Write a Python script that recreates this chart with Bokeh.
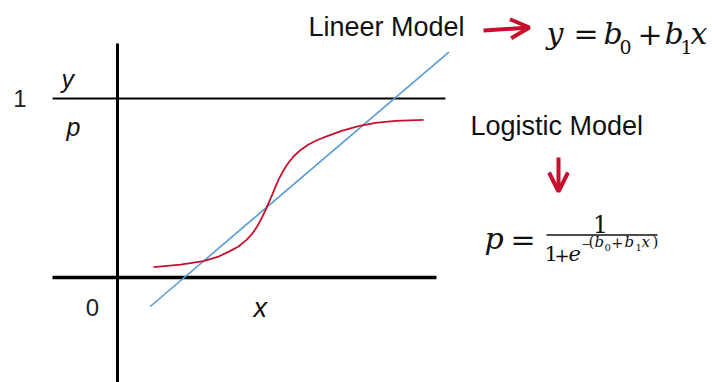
from bokeh.plotting import figure
from bokeh.models import Range1d, Arrow, OpenHead
from bokeh.core.properties import value
from bokeh.embed import file_html
from bokeh.resources import INLINE

# ---------------- data (diagram units: x axis origin = 0, p/y from 0 to 1) ----------------
tick_values = [0, 1]
tick_labels = ["0", "1"]

# linear model y = b0 + b1 x (end points of the drawn line)
lin_x = [0.183, 1.851]
lin_y = [-0.162, 1.259]

# logistic model curve
logit_x = [0.201, 0.352, 0.480, 0.564, 0.620, 0.676, 0.721, 0.754, 0.782, 0.810, 0.832,
           0.855, 0.877, 0.899, 0.922, 0.950, 0.983, 1.022, 1.067, 1.117, 1.179, 1.257,
           1.346, 1.441, 1.553, 1.710]
logit_p = [0.058, 0.072, 0.092, 0.117, 0.143, 0.173, 0.210, 0.246, 0.288, 0.341, 0.388,
           0.441, 0.494, 0.545, 0.589, 0.634, 0.676, 0.712, 0.743, 0.768, 0.793, 0.821,
           0.846, 0.864, 0.875, 0.881]

# reference lines of the diagram
hline_y = [1, 0]
hline_x0 = [-0.363, -0.363]
hline_x1 = [1.832, 1.782]
vaxis_y = [1.307, -0.70]

RED = "#c8102e"
BLUE = "#5b9bd5"
SANS = value("Liberation Sans")
SERIF = value("DejaVu Serif")

# ---------------- geometry helpers ----------------
S = 179.0          # pixels per diagram unit
OX, OY = 117.0, 277.0
K = 0.36           # cap-height centre relative to font size


def X(px):
    return (px - OX) / S


def Y(py):
    return (OY - py) / S


W, H = 712, 382
p = figure(width=W, height=H, output_backend="svg", toolbar_location=None,
           x_range=Range1d(X(0), X(W)), y_range=Range1d(Y(H), Y(0)),
           min_border=0, min_border_left=0, min_border_right=0,
           min_border_top=0, min_border_bottom=0)
p.axis.visible = False
p.grid.visible = False
p.outline_line_color = None
p.background_fill_color = "white"
p.border_fill_color = "white"

# axes of the diagram
p.segment(x0=[0], y0=[vaxis_y[0]], x1=[0], y1=[vaxis_y[1]], line_color="black", line_width=3)
p.segment(x0=[hline_x0[0]], y0=[hline_y[0]], x1=[hline_x1[0]], y1=[hline_y[0]],
          line_color="black", line_width=1.8)
p.segment(x0=[hline_x0[1]], y0=[hline_y[1]], x1=[hline_x1[1]], y1=[hline_y[1]],
          line_color="black", line_width=3.5)

# models
p.line(lin_x, lin_y, line_color=BLUE, line_width=1.6)
p.line(logit_x, logit_p, line_color=RED, line_width=1.8, line_join="round")

# tick labels
p.text(x=[X(19.5), X(92)], y=[tick_values[1] + 0.0, tick_values[0] - 30 / S],
       text=[tick_labels[1], tick_labels[0]], text_align="center", text_baseline="middle",
       text_font=SANS, text_font_size="24px", text_color="#222222")


def label(txt, px, base, size, font, italic=False, align="left"):
    """place text so that its baseline lies at screen row `base`"""
    p.text(x=[X(px)], y=[Y(base - K * size)], text=[txt], text_align=align,
           text_baseline="middle", text_font=font,
           text_font_style="italic" if italic else "normal",
           text_font_size=f"{size}px", text_color="#111111")


# axis variable labels
label("y", 61, 87, 25, SANS, True)
label("p", 66, 135, 25, SANS, True)
label("x", 253, 317, 27, SANS, True)

# model titles
label("Lineer Model", 308, 36, 27, SANS)
label("Logistic Model", 470, 135, 27, SANS)

# arrows
p.add_layout(Arrow(end=OpenHead(size=19, line_color=RED, line_width=4),
                   x_start=X(483), y_start=Y(30), x_end=X(529), y_end=Y(27),
                   line_color=RED, line_width=4))
p.add_layout(Arrow(end=OpenHead(size=19, line_color=RED, line_width=4),
                   x_start=X(558), y_start=Y(157), x_end=X(558), y_end=Y(191),
                   line_color=RED, line_width=4))

# y = b0 + b1 x
label("y", 546, 44, 30, SERIF, True)
label("=", 573, 44, 30, SERIF)
label("b", 603, 44, 30, SERIF, True)
label("0", 619, 53, 19, SERIF)
label("+", 637, 44, 30, SERIF)
label("b", 664, 44, 30, SERIF, True)
label("1", 680, 53, 19, SERIF)
label("x", 690, 44, 30, SERIF, True)

# p = 1 / (1 + e^-(b0 + b1 x))
label("p", 484, 249, 30, SERIF, True)
label("=", 510, 250, 30, SERIF)
label("1", 600, 232, 24, SERIF, align="center")
p.segment(x0=[X(546)], y0=[Y(234.5)], x1=[X(657)], y1=[Y(234.5)], line_color="#111111", line_width=1.4)
label("1", 544, 261, 21, SERIF)
label("+", 554, 261, 18, SERIF)
label("e", 568, 261, 21, SERIF, True)
label("\u2212", 581, 247, 11, SERIF)
label("(", 588, 247, 15, SERIF)
label("b", 594, 247, 15, SERIF, True)
label("0", 604, 251, 10, SERIF)
label("+", 611, 247, 14, SERIF)
label("b", 624, 247, 15, SERIF, True)
label("1", 635, 251, 10, SERIF)
label("x", 641, 247, 15, SERIF, True)
label(")", 652, 247, 15, SERIF)

open("out.html", "w").write(file_html(p, INLINE))
